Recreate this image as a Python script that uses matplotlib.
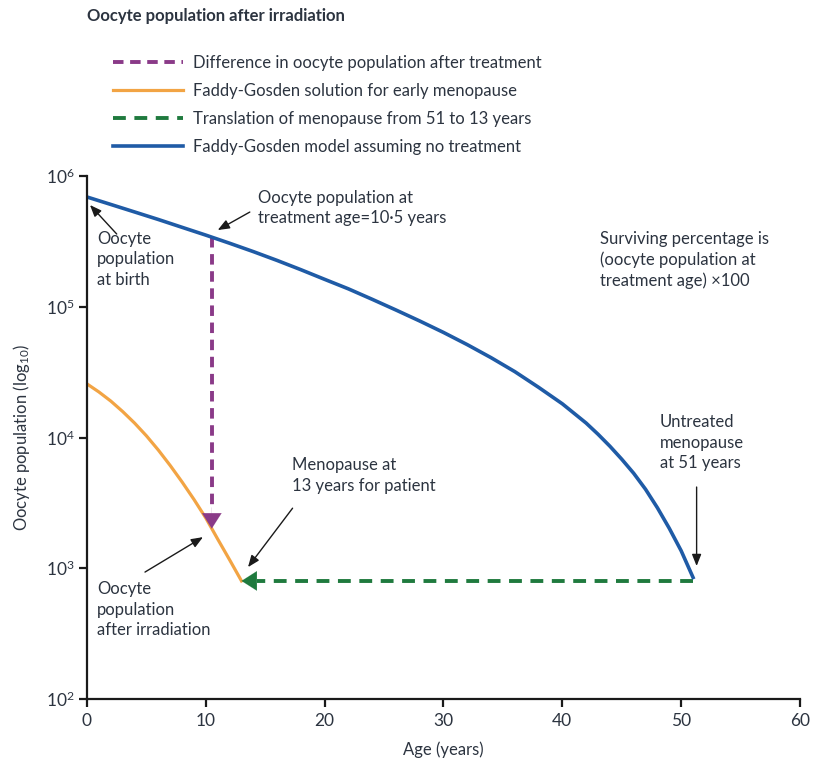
import numpy as np
import matplotlib
matplotlib.use("Agg")
import matplotlib.pyplot as plt
from matplotlib.ticker import LogLocator, LogFormatterMathtext, NullLocator

plt.rcParams['font.family'] = ['Lato', 'DejaVu Sans']
plt.rcParams['mathtext.fontset'] = 'custom'
plt.rcParams['mathtext.rm'] = 'Lato'
plt.rcParams['mathtext.it'] = 'Lato:italic'

# ---- data ----
age_untreated = [0, 2, 4, 6, 8, 10, 12, 14, 16, 18, 20, 22, 24, 26, 28, 30, 32, 34, 36,
                 38, 40, 42, 43, 44, 45, 46, 47, 48, 49, 50, 51]
pop_untreated = [6.91e5, 6.06e5, 5.31e5, 4.65e5, 4.05e5, 3.53e5, 3.06e5, 2.64e5, 2.26e5,
                 1.92e5, 1.62e5, 1.37e5, 1.14e5, 9.44e4, 7.78e4, 6.36e4, 5.13e4, 4.08e4,
                 3.19e4, 2.42e4, 1.81e4, 1.29e4, 1.06e4, 8.58e3, 6.82e3, 5.33e3, 4.02e3,
                 2.90e3, 2.02e3, 1.36e3, 8.5e2]
age_early = [0, 1, 2, 3, 4, 5, 6, 7, 8, 9, 10, 11, 12, 13]
pop_early = [2.57e4, 2.23e4, 1.90e4, 1.58e4, 1.29e4, 1.03e4, 8.02e3, 6.11e3, 4.57e3,
             3.36e3, 2.42e3, 1.67e3, 1.16e3, 8.0e2]
treatment_age = 10.5
menopause_untreated = 51
menopause_patient = 13
x_ticks = [0, 10, 20, 30, 40, 50, 60]

BLUE = '#1f5ba6'
ORANGE = '#f2a444'
PURPLE = '#8a3a88'
GREEN = '#1f7a3e'
TXT = '#2c3440'

fig = plt.figure(figsize=(8.14, 7.66), dpi=100)
ax = fig.add_axes([87/814, 1-699/766, (800-87)/814, (699-176)/766])

def logi(x, xs, ys):
    return 10**np.interp(x, xs, np.log10(ys))

pop_treat_blue = logi(treatment_age, age_untreated, pop_untreated)
pop_treat_orange = logi(treatment_age, age_early, pop_early)
meno_level = pop_early[-1]

# purple dashed
l_purple, = ax.plot([treatment_age, treatment_age], [pop_treat_blue, pop_treat_orange*1.4],
                    color=PURPLE, lw=2.8, linestyle=(0, (2.7, 1.7)),
                    label='Difference in oocyte population after treatment')
ax.annotate('', xy=(treatment_age, pop_treat_orange), xytext=(treatment_age, pop_treat_orange*1.45),
            arrowprops=dict(arrowstyle='-|>,head_length=1.1,head_width=0.7', color=PURPLE, lw=0.1,
                            shrinkA=0, shrinkB=0))

l_orange, = ax.plot(age_early, pop_early, color=ORANGE, lw=2.3,
                    label='Faddy-Gosden solution for early menopause')

# green dashed
l_green, = ax.plot([menopause_untreated, menopause_patient + 1.3], [meno_level, meno_level],
                   color=GREEN, lw=2.8, linestyle=(0, (3.3, 2.2)),
                   label='Translation of menopause from 51 to 13 years')
ax.annotate('', xy=(menopause_patient, meno_level), xytext=(menopause_patient + 1.5, meno_level),
            arrowprops=dict(arrowstyle='-|>,head_length=1.1,head_width=0.7', color=GREEN, lw=0.1,
                            shrinkA=0, shrinkB=0))

l_blue, = ax.plot(age_untreated, pop_untreated, color=BLUE, lw=2.6,
                  label='Faddy-Gosden model assuming no treatment')

ax.set_yscale('log')
ax.set_xlim(0, 60)
ax.set_ylim(1e2, 1e6)
ax.set_xticks(x_ticks)
ax.yaxis.set_major_locator(LogLocator(base=10, numticks=10))
ax.yaxis.set_minor_locator(NullLocator())
ax.yaxis.set_major_formatter(LogFormatterMathtext())
for s in ['top', 'right']:
    ax.spines[s].set_visible(False)
for s in ['left', 'bottom']:
    ax.spines[s].set_linewidth(1.6)
    ax.spines[s].set_color('#1a1a1a')
ax.tick_params(axis='both', direction='out', length=6, width=1.6, colors='#1a1a1a',
               labelcolor=TXT, labelsize=12.5)
ax.tick_params(axis='x', pad=4)
ax.tick_params(axis='y', pad=3)
ax.set_xlabel('Age (years)', color=TXT, fontsize=12, labelpad=9)
ax.set_ylabel('Oocyte population (log$_{10}$)', color=TXT, fontsize=12, labelpad=10)

fs = 12
arrow_kw = dict(arrowstyle='-|>,head_length=0.7,head_width=0.28', color='#1a1a1a', lw=1.0,
                shrinkA=0, shrinkB=0)

ax.annotate('', xy=(0.25, 6.0e5), xytext=(2.5, 3.6e5), arrowprops=arrow_kw)
ax.text(0.84, 2.3e5, 'Oocyte\npopulation\nat birth', color=TXT, fontsize=fs,
        va='center', ha='left', linespacing=1.35)

ax.annotate('', xy=(11.0, 3.86e5), xytext=(13.7, 5.3e5), arrowprops=arrow_kw)
ax.text(14.4, 5.69e5, 'Oocyte population at\ntreatment age=10·5 years', color=TXT,
        fontsize=fs, va='center', ha='left', linespacing=1.35)

ax.text(43.2, 2.28e5, 'Surviving percentage is\n(oocyte population at\ntreatment age) \u00d7100',
        color=TXT, fontsize=fs, va='center', ha='left', linespacing=1.35)

ax.text(48.2, 9.1e3, 'Untreated\nmenopause\nat 51 years', color=TXT, fontsize=fs,
        va='center', ha='left', linespacing=1.35)
ax.annotate('', xy=(51.3, 1.04e3), xytext=(51.3, 4.18e3), arrowprops=arrow_kw)

ax.text(17.25, 5.1e3, 'Menopause at\n13 years for patient', color=TXT, fontsize=fs,
        va='center', ha='left', linespacing=1.35)
ax.annotate('', xy=(13.55, 1.02e3), xytext=(17.3, 2.88e3), arrowprops=arrow_kw)

ax.text(0.84, 480, 'Oocyte\npopulation\nafter irradiation', color=TXT, fontsize=fs,
        va='center', ha='left', linespacing=1.35)
ax.annotate('', xy=(9.76, 1.73e3), xytext=(4.88, 935), arrowprops=arrow_kw)

fig.text(87/814, 1-16/766, 'Oocyte population after irradiation', color=TXT,
         fontsize=12, fontweight='bold', va='center', ha='left')

fig.legend(handles=[l_purple, l_orange, l_green, l_blue], loc='upper left',
           bbox_to_anchor=(113/814, 1-55/766), frameon=False, fontsize=fs,
           handlelength=4.2, handletextpad=0.6, labelspacing=0.72,
           borderpad=0, borderaxespad=0, labelcolor=TXT)

fig.savefig('out.png', dpi=100)
